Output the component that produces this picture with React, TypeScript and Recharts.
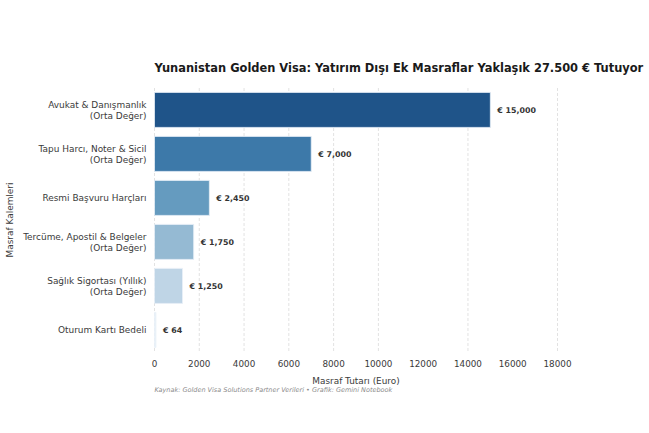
import { Bar, BarChart, CartesianGrid, Cell, LabelList, Label, XAxis, YAxis } from "recharts"

const categories = [
  "Avukat & Danışmanlık\n(Orta Değer)",
  "Tapu Harcı, Noter & Sicil\n(Orta Değer)",
  "Resmi Başvuru Harçları",
  "Tercüme, Apostil & Belgeler\n(Orta Değer)",
  "Sağlık Sigortası (Yıllık)\n(Orta Değer)",
  "Oturum Kartı Bedeli",
]
const amounts = [15000, 7000, 2450, 1750, 1250, 64]
const xTicks = [0, 2000, 4000, 6000, 8000, 10000, 12000, 14000, 16000, 18000]
const barColors = ["#1f5489", "#3d79a9", "#659bbf", "#95bad3", "#bfd5e6", "#eaf2fa"]

const data = categories.map((name, i) => ({ name, amount: amounts[i] }))
const FONT = "'DejaVu Sans', sans-serif"

function CategoryTick({ x, y, payload }: any) {
  const lines: string[] = payload.value.split("\n")
  const startY = lines.length > 1 ? y - 4.8 : y - 0.5
  return (
    <text x={x} y={startY} textAnchor="end" fontSize={8.95} fontFamily={FONT} fill="#3a3a3a" dominantBaseline="central">
      {lines.map((line, i) => (
        <tspan key={i} x={x} dy={i === 0 ? 0 : 10.7}>
          {line}
        </tspan>
      ))}
    </text>
  )
}

export default function App() {
  return (
    <div style={{ position: "absolute", left: 0, top: 0, width: 649, height: 433, background: "#fff", fontFamily: FONT }}>
      <div style={{ position: "absolute", left: 154.5, top: 61, fontSize: 11.45, fontWeight: 700, color: "#1a1a1a", whiteSpace: "nowrap", lineHeight: "15px" }}>
        Yunanistan Golden Visa: Yatırım Dışı Ek Masraflar Yaklaşık 27.500 € Tutuyor
      </div>
      <BarChart
        width={649}
        height={433}
        data={data}
        layout="vertical"
        barCategoryGap="10%"
        margin={{ top: 88, right: 91.5, bottom: 51, left: 0 }}
      >
        <CartesianGrid horizontal={false} stroke="#e2e2e2" strokeDasharray="3 2" />
        <XAxis
          type="number"
          domain={[0, 18000]}
          ticks={xTicks}
          height={30}
          tickLine={false}
          axisLine={false}
          tick={{ fontSize: 8.8, fill: "#3a3a3a", fontFamily: FONT }}
          tickMargin={3}
        >
          <Label value="Masraf Tutarı (Euro)" position="insideBottom" offset={-1.5} fontSize={8.9} fill="#3a3a3a" fontFamily={FONT} />
        </XAxis>
        <YAxis
          type="category"
          dataKey="name"
          width={154.5}
          tickLine={false}
          axisLine={false}
          tick={<CategoryTick />}
          interval={0}
        >
          <Label value="Masraf Kalemleri" angle={-90} position="insideLeft" offset={10} fontSize={8.95} fill="#3a3a3a" fontFamily={FONT} style={{ textAnchor: "middle" }} />
        </YAxis>
        <Bar dataKey="amount" isAnimationActive={false} stroke="#e8f0f7" strokeWidth={0.8}>
          {data.map((d, i) => (
            <Cell key={d.name} fill={barColors[i]} />
          ))}
          <LabelList
            dataKey="amount"
            position="right"
            offset={7}
            formatter={(v: number) => `€ ${v.toLocaleString("en-US")}`}
            style={{ fontSize: 7.9, fontWeight: 700, fill: "#333", fontFamily: FONT, stroke: "none" }}
          />
        </Bar>
      </BarChart>
      <div style={{ position: "absolute", left: 154.5, top: 385.5, fontSize: 6.5, fontStyle: "italic", color: "#8a8a8a", whiteSpace: "nowrap", lineHeight: "9px" }}>
        Kaynak: Golden Visa Solutions Partner Verileri • Grafik: Gemini Notebook
      </div>
    </div>
  )
}
